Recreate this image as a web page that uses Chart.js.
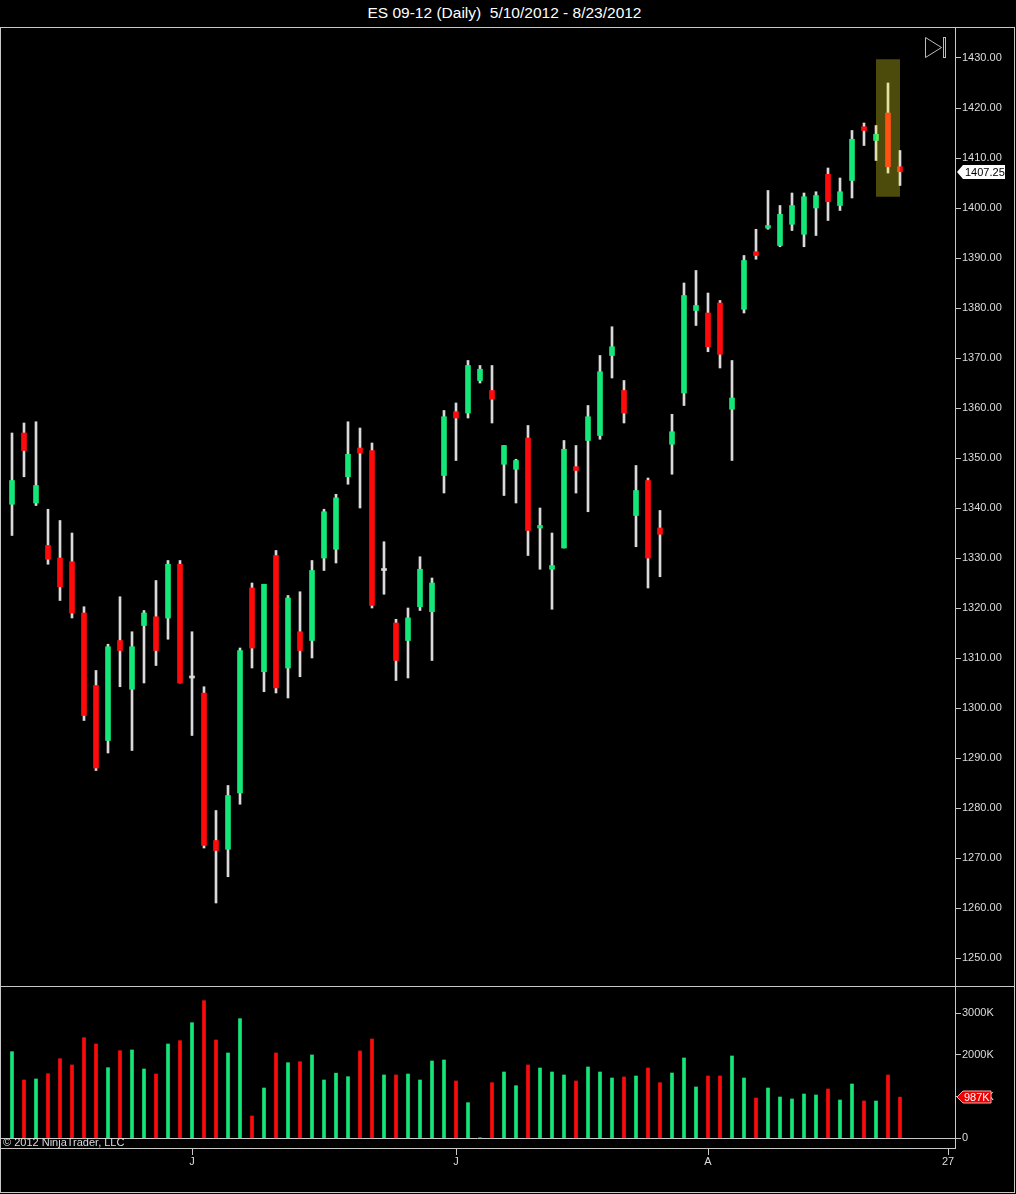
<!DOCTYPE html>
<html>
<head>
<meta charset="utf-8">
<title>ES 09-12 (Daily)</title>
<script src="https://cdn.jsdelivr.net/npm/chart.js@4.4.0/dist/chart.umd.min.js"></script>
<style>
body{margin:0;background:#000;width:1016px;height:1194px;overflow:hidden;position:relative;font-family:"Liberation Sans",Arial,sans-serif;}
#title{position:absolute;left:0;top:0;width:1009px;height:25px;line-height:25px;text-align:center;color:#fff;font-size:15.5px;white-space:pre;}
#frame{position:absolute;left:0;top:27px;width:1013px;height:1164px;border:1px solid #c8c8c8;}
#sep{position:absolute;left:0;top:986px;width:1015px;height:1px;background:#c8c8c8;}
canvas{position:absolute;left:0;}
#priceChart{top:28px;}
#volumeChart{top:987px;}
</style>
</head>
<body>
<div id="title">ES 09-12 (Daily)  5/10/2012 - 8/23/2012</div>
<div id="frame"></div>
<div id="sep"></div>
<canvas id="priceChart" width="1014" height="958"></canvas>
<canvas id="volumeChart" width="1014" height="205"></canvas>
<script>
// Daily bars (one entry per session)
const opens = [
  1340.75,1355,1341,1332.5,1330,1329.25,1319,1304.5,1293.5,1313.5,
  1303.75,1316.5,1318.25,1318,1328.75,1306,1303,1273.5,1271.75,1283,
  1324,1307.25,1330.5,1308,1315.25,1313.5,1330,1331.75,1346.25,1352,
  1351.5,1327.5,1317,1313.5,1320.25,1319.25,1346.5,1359.25,1359,1365.5,
  1363.5,1348.75,1347.75,1354,1336,1327.75,1332,1348.25,1353.5,1354.5,
  1370.5,1363.5,1338.5,1345.5,1336,1352.75,1363,1379.5,1379,1381,
  1359.75,1379.75,1391.25,1396,1392.5,1396.75,1394.75,1400,1406.75,1400.5,
  1405.5,1416.25,1413.5,1419,1408.25
];
const highs = [
  1355,1357,1357.25,1339.75,1337.5,1335,1320.25,1307.5,1312.75,1322.25,
  1315.25,1319.5,1325.5,1329.5,1329.5,1315.25,1304.25,1279.5,1284.5,1312,
  1325,1324.75,1331.5,1322.5,1323.25,1329.5,1339.75,1342.75,1357.25,1356,
  1353,1333.25,1317.75,1320,1330.25,1326,1359.5,1361,1369.5,1368.5,
  1368.5,1352.5,1349.75,1356.5,1340,1335,1353.5,1352.5,1360.5,1370.5,
  1376.25,1365.5,1348.5,1346,1339.5,1358.75,1385,1387.5,1383,1381.5,
  1369.5,1390.5,1395.75,1403.5,1400.5,1403,1403,1403.25,1408,1406,
  1415.5,1417,1416.5,1425,1411.5
];
const lows = [
  1334.5,1346.25,1340.5,1328.75,1321.5,1318,1297.5,1287.5,1291,1304.25,
  1291.5,1305,1308.5,1313.75,1305,1294.5,1272,1261,1266.25,1280.75,
  1308,1303.25,1303,1302,1306.25,1310,1327.5,1329,1344.75,1340,
  1320,1322.75,1305.5,1306,1319.5,1309.5,1343,1349.5,1358,1365,
  1357,1342.5,1341,1330.5,1327.75,1319.75,1332,1343,1339.25,1353.75,
  1366,1357,1332.25,1324,1326.25,1346.75,1360.5,1376.5,1371.25,1368,
  1349.5,1379,1389.75,1395.75,1392.25,1395.5,1392.25,1394.5,1397.5,1399.5,
  1402,1412.5,1409.5,1407,1404.5
];
const closes = [
  1345.5,1351.5,1344.5,1329.75,1324.25,1319,1298.5,1288,1312.25,1311.5,
  1312.25,1319,1311.5,1328.75,1305,1306,1272.5,1271.5,1282.5,1311.5,
  1312,1324.75,1304,1322,1311.5,1327.5,1339.25,1342,1350.75,1351,
  1320.5,1327.5,1309.5,1318,1327.75,1325,1358.25,1358,1368.5,1367.75,
  1361.75,1352.5,1349.5,1335.5,1336.5,1328.5,1351.75,1347.5,1358.25,1367.25,
  1372.25,1359,1343.5,1330,1334.75,1355.25,1382.5,1380.5,1372.25,1370.75,
  1362,1389.5,1390.5,1396.5,1398.75,1400.5,1402.25,1402.5,1401.25,1403.25,
  1413.75,1415.5,1414.75,1408.25,1407.25
];
// volume in thousands of contracts
const volumes = [
  2077,1398,1422,1549,1909,1758,2413,2261,1693,2101,
  2118,1662,1542,2261,2341,2772,3300,2357,2046,2868,
  535,1206,2046,1813,1837,1998,1398,1562,1477,2094,
  2381,1518,1518,1542,1398,1854,1878,1374,854,10,
  1333,1590,1261,1758,1686,1590,1518,1374,1710,1590,
  1446,1470,1494,1686,1333,1566,1926,1230,1494,1494,
  1974,1446,966,1206,990,942,1062,1038,1182,918,
  1302,894,894,1518,987
];

// month ticks on the time axis (bar slot -> label)
const timeTickSlots = [16, 38, 59, 79];
const timeTickLabels = ['J', 'J', 'A', '27'];
const priceTicks = [1250,1260,1270,1280,1290,1300,1310,1320,1330,1340,1350,1360,1370,1380,1390,1400,1410,1420,1430];
const volumeTicks = [0, 1000, 2000, 3000];

// highlighted bar (the box drawn round the last big bar)
const highlightBar = 74;

const UP = '#14e678';
const DOWN = '#ff0a0a';
const WICK = '#d9d9d9';
const AXIS = '#c8c8c8';
const TEXT = '#dcdcdc';

Chart.defaults.font.family = '"Liberation Sans", Arial, sans-serif';
Chart.defaults.font.size = 11;
Chart.defaults.color = TEXT;

const slots = closes.map((c, i) => i + 1);
const xMin = 0, xMax = 955 / 12;

function bodyColor(i) {
  if (closes[i] > opens[i]) return UP;
  if (closes[i] < opens[i]) return DOWN;
  return WICK;
}

const priceExtras = {
  id: 'priceExtras',
  afterDatasetsDraw(chart) {
    const {ctx, scales: {x, y}} = chart;
    // translucent box over the highlighted bar
    const l = x.getPixelForValue(highlightBar - 1);
    const r = x.getPixelForValue(highlightBar + 1);
    const t = y.getPixelForValue(highs[highlightBar - 1] + 4.75);
    const b = y.getPixelForValue(lows[highlightBar - 1] - 4.75);
    ctx.save();
    ctx.fillStyle = 'rgba(255,250,35,0.3)';
    ctx.fillRect(l, t, r - l, b - t);
    ctx.restore();
  },
  afterDraw(chart) {
    const {ctx, chartArea, scales: {y}} = chart;
    ctx.save();
    // "go to end" button
    const bx = chartArea.right - 30, by = 9;
    ctx.strokeStyle = '#bbbbbb';
    ctx.lineWidth = 1;
    ctx.beginPath();
    ctx.moveTo(bx + 0.5, by + 0.5);
    ctx.lineTo(bx + 0.5, by + 20.5);
    ctx.lineTo(bx + 16.5, by + 10.5);
    ctx.closePath();
    ctx.stroke();
    ctx.strokeRect(bx + 18.5, by + 0.5, 2, 20);
    // last price marker
    const last = closes[closes.length - 1];
    const py = Math.round(y.getPixelForValue(last));
    const ax = chartArea.right + 2;
    ctx.beginPath();
    ctx.moveTo(ax, py);
    ctx.lineTo(ax + 6, py - 7);
    ctx.lineTo(ax + 48, py - 7);
    ctx.lineTo(ax + 48, py + 7);
    ctx.lineTo(ax + 6, py + 7);
    ctx.closePath();
    ctx.fillStyle = '#ffffff';
    ctx.fill();
    ctx.fillStyle = '#000000';
    ctx.font = '11px "Liberation Sans", Arial, sans-serif';
    ctx.textBaseline = 'middle';
    ctx.fillText(last.toFixed(2), ax + 8, py + 0.5);
    ctx.restore();
  }
};

new Chart(document.getElementById('priceChart'), {
  type: 'bar',
  data: {
    datasets: [
      {
        label: 'Body',
        order: 0,
        data: slots.map((s, i) => ({x: s, y: [opens[i], closes[i]]})),
        backgroundColor: closes.map((c, i) => bodyColor(i)),
        barThickness: 5,
        minBarLength: 2,
        grouped: false
      },
      {
        label: 'Range',
        order: 1,
        data: slots.map((s, i) => ({x: s, y: [lows[i], highs[i]]})),
        backgroundColor: WICK,
        barThickness: 2,
        grouped: false
      }
    ]
  },
  options: {
    responsive: false,
    devicePixelRatio: 1,
    animation: false,
    layout: {padding: 0},
    plugins: {legend: {display: false}, tooltip: {enabled: false}},
    scales: {
      x: {type: 'linear', min: xMin, max: xMax, display: false, offset: false, grid: {offset: false}},
      y: {
        position: 'right',
        min: 1244.4,
        max: 1436,
        afterBuildTicks: s => { s.ticks = priceTicks.map(v => ({value: v})); },
        afterFit: s => { s.width = 59; s.paddingTop = 0; s.paddingBottom = 0; },
        ticks: {padding: 1, color: TEXT, callback: v => Number(v).toFixed(2)},
        grid: {drawOnChartArea: false, drawTicks: true, tickLength: 6, color: AXIS},
        border: {display: true, color: AXIS}
      }
    }
  },
  plugins: [priceExtras]
});

const volumeExtras = {
  id: 'volumeExtras',
  afterDraw(chart) {
    const {ctx, chartArea, scales: {y}} = chart;
    ctx.save();
    ctx.font = '11px "Liberation Sans", Arial, sans-serif';
    ctx.textBaseline = 'middle';
    ctx.fillStyle = TEXT;
    ctx.fillText('\u00a9 2012 NinjaTrader, LLC', 3, y.getPixelForValue(0) + 4.5);
    // last volume marker
    const last = volumes[volumes.length - 1];
    const py = Math.round(y.getPixelForValue(last));
    const ax = chartArea.right + 2;
    ctx.beginPath();
    ctx.moveTo(ax, py);
    ctx.lineTo(ax + 6, py - 6);
    ctx.lineTo(ax + 34, py - 6);
    ctx.lineTo(ax + 34, py + 6);
    ctx.lineTo(ax + 6, py + 6);
    ctx.closePath();
    ctx.fillStyle = '#ee0000';
    ctx.fill();
    ctx.strokeStyle = '#ffaaaa';
    ctx.stroke();
    ctx.fillStyle = '#ffffff';
    ctx.fillText(last + 'K', ax + 7, py + 0.5);
    ctx.restore();
  }
};

new Chart(document.getElementById('volumeChart'), {
  type: 'bar',
  data: {
    datasets: [{
      label: 'Volume',
      data: slots.map((s, i) => ({x: s, y: volumes[i]})),
      backgroundColor: closes.map((c, i) => (c >= opens[i] ? UP : DOWN)),
      barThickness: 3,
      grouped: false
    }]
  },
  options: {
    responsive: false,
    devicePixelRatio: 1,
    animation: false,
    layout: {padding: 0},
    plugins: {legend: {display: false}, tooltip: {enabled: false}},
    scales: {
      x: {
        type: 'linear',
        min: xMin,
        max: xMax,
        offset: false,
        afterBuildTicks: s => { s.ticks = timeTickSlots.map(v => ({value: v})); },
        afterFit: s => { s.height = 44; s.paddingLeft = 0; s.paddingRight = 0; },
        ticks: {
          autoSkip: false,
          maxRotation: 0,
          padding: 0,
          color: TEXT,
          callback: v => timeTickLabels[timeTickSlots.indexOf(v)]
        },
        grid: {offset: false, drawOnChartArea: false, drawTicks: true, tickLength: 7, color: AXIS},
        border: {display: true, color: AXIS}
      },
      y: {
        position: 'right',
        min: -233,
        max: 3628,
        afterBuildTicks: s => { s.ticks = volumeTicks.map(v => ({value: v})); },
        afterFit: s => { s.width = 59; s.paddingTop = 0; s.paddingBottom = 0; },
        ticks: {padding: 1, color: TEXT, callback: v => (v === 0 ? '0' : v + 'K')},
        grid: {
          drawOnChartArea: true,
          drawTicks: true,
          tickLength: 6,
          color: c => (c.tick && c.tick.value === 0 ? AXIS : 'rgba(0,0,0,0)'),
          tickColor: AXIS
        },
        border: {display: true, color: AXIS}
      }
    }
  },
  plugins: [volumeExtras]
});
</script>
</body>
</html>
